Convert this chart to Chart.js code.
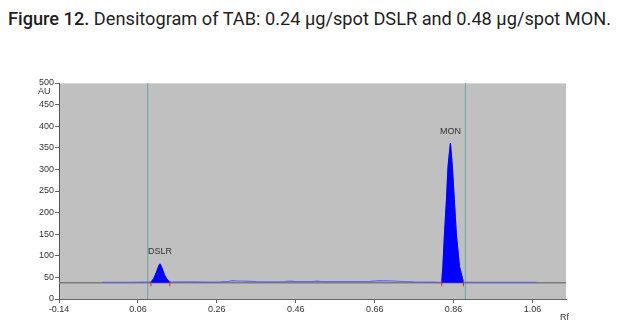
<!DOCTYPE html>
<html>
<head>
<meta charset="utf-8">
<script src="https://cdn.jsdelivr.net/npm/chart.js@4/dist/chart.umd.min.js"></script>
<style>
  html, body { margin: 0; padding: 0; background: #fff; }
  #wrap { position: relative; width: 619px; height: 335px; overflow: hidden; }
  #title {
    position: absolute; left: 8px; top: 8px; white-space: nowrap;
    font-family: Roboto, "Liberation Sans", sans-serif;
    font-size: 18.5px; color: #1e1e1e; transform-origin: 0 0; line-height: 22px;
  }
  #title b { font-weight: 500; }
  canvas { position: absolute; left: 0; top: 0; }
</style>
</head>
<body>
<div id="wrap">
  <div id="title"><b>Figure 12.</b> Densitogram of TAB: 0.24 μg/spot DSLR and 0.48 μg/spot MON.</div>
  <canvas id="c" width="619" height="335"></canvas>
</div>
<script>
// Rf axis ticks and AU axis ticks
const rfTicks = [-0.14, 0.06, 0.26, 0.46, 0.66, 0.86, 1.06];
const auTicks = [0, 50, 100, 150, 200, 250, 300, 350, 400, 450, 500];

// scanner baseline level (AU)
const baselineAU = 37.5;

// densitometric trace: Rf positions and absorbance (AU)
const traceRf = [-0.03, 0.00, 0.04, 0.08, 0.093, 0.100, 0.107, 0.113, 0.116, 0.120, 0.127, 0.134, 0.141,
  0.16, 0.20, 0.24, 0.27, 0.29, 0.30, 0.31, 0.33, 0.36, 0.40, 0.43, 0.445, 0.46, 0.48, 0.50, 0.515, 0.525, 0.54,
  0.58, 0.62, 0.65, 0.67, 0.70, 0.73, 0.76, 0.80, 0.82,
  0.830, 0.833, 0.837, 0.842, 0.846, 0.852, 0.857, 0.862, 0.867, 0.875, 0.885,
  0.90, 0.95, 1.00, 1.07];
const traceAU = [38.5, 38.5, 38.8, 39, 39, 47, 62, 77, 81, 74, 56, 45, 39,
  39.5, 39.5, 39, 39.5, 41, 42.5, 42, 41.5, 40, 39.5, 40, 41.5, 40, 40, 40, 41.5, 40.5, 40,
  40, 40, 41, 42.5, 42, 40.5, 39.5, 39, 38.5,
  38.5, 75, 151, 229, 306, 361, 306, 229, 151, 75, 39,
  38.5, 38.5, 38.5, 38.5];

// integrated peak windows (start Rf, end Rf) and their names
const peakNames = ["DSLR", "MON"];
const peakStart = [0.093, 0.830];
const peakEnd = [0.141, 0.885];

// track boundary lines (Rf)
const trackLines = [0.085, 0.89];

const tracePts = traceRf.map((x, i) => ({ x, y: traceAU[i] }));
const peakSets = peakNames.map((name, k) => ({
  label: name,
  data: tracePts.filter(p => p.x >= peakStart[k] - 1e-9 && p.x <= peakEnd[k] + 1e-9),
  showLine: true,
  borderColor: '#0000ff',
  backgroundColor: '#0000ff',
  borderWidth: 1,
  pointRadius: 0,
  tension: 0,
  fill: { value: baselineAU }
}));

const markerPts = [];
peakNames.forEach((n, k) => {
  markerPts.push({ x: peakStart[k], y: baselineAU - 2 });
  markerPts.push({ x: peakEnd[k], y: baselineAU - 2 });
});

const datasets = [
  {
    label: 'markers', data: markerPts, showLine: false,
    pointStyle: 'line', rotation: 90, pointRadius: 2.5,
    borderColor: '#e02020', borderWidth: 1
  },
  ...peakSets,
  {
    label: 'trace', data: tracePts, showLine: true,
    borderColor: 'rgba(85,85,245,0.8)', borderWidth: 1.2,
    pointRadius: 0, fill: false, tension: 0
  },
  {
    label: 'baseline',
    data: [{ x: -0.14, y: baselineAU }, { x: 1.145, y: baselineAU }],
    showLine: true, borderColor: '#7c7c7c', borderWidth: 1.5, pointRadius: 0
  },
  ...trackLines.map(x => ({
    label: 'track', data: [{ x, y: 0 }, { x, y: 500 }], showLine: true,
    borderColor: '#6fa2a2', borderWidth: 1, pointRadius: 0
  }))
];

const labelFont = '9px "Liberation Sans", Arial, sans-serif';

const decor = {
  id: 'decor',
  beforeDraw(chart) {
    const { ctx, chartArea: a } = chart;
    ctx.save();
    ctx.fillStyle = '#c0c0c0';
    ctx.fillRect(a.left, a.top, a.right - a.left, a.bottom - a.top);
    ctx.strokeStyle = '#d8d8d8';
    ctx.lineWidth = 1;
    ctx.beginPath();
    ctx.moveTo(a.left, a.top + 0.5);
    ctx.lineTo(a.right, a.top + 0.5);
    ctx.stroke();
    ctx.restore();
  },
  afterDraw(chart) {
    const { ctx, chartArea: a, scales } = chart;
    ctx.save();
    ctx.font = labelFont;
    ctx.fillStyle = '#333';
    ctx.textAlign = 'center';
    ctx.textBaseline = 'middle';
    peakNames.forEach((name, k) => {
      const pts = peakSets[k].data;
      const top = pts.reduce((m, p) => (p.y > m.y ? p : m), pts[0]);
      const px = scales.x.getPixelForValue(top.x);
      const py = scales.y.getPixelForValue(top.y);
      ctx.fillText(name, px, py - 12);
    });
    ctx.textAlign = 'left';
    ctx.fillText('AU', a.left - 21, a.top + 9);
    ctx.fillText('Rf', a.right - 6, a.bottom + 19);
    ctx.restore();
  }
};

new Chart(document.getElementById('c'), {
  type: 'scatter',
  data: { datasets },
  plugins: [decor],
  options: {
    responsive: false,
    animation: false,
    layout: { padding: { top: 83, right: 53, bottom: 0, left: 0 } },
    plugins: { legend: { display: false }, tooltip: { enabled: false } },
    scales: {
      x: {
        type: 'linear', min: -0.14, max: 1.145,
        afterBuildTicks: s => { s.ticks = rfTicks.map(v => ({ value: v })); },
        afterFit: s => { s.height = 36; },
        ticks: {
          font: { family: '"Liberation Sans", Arial, sans-serif', size: 9 },
          color: '#333', padding: 1, maxRotation: 0, autoSkip: false,
          callback: v => v.toFixed(2)
        },
        grid: { drawOnChartArea: false, drawTicks: true, tickLength: 4, color: '#666' },
        border: { display: true, color: '#666', width: 1 }
      },
      y: {
        type: 'linear', min: 0, max: 500,
        afterBuildTicks: s => { s.ticks = auTicks.map(v => ({ value: v })); },
        afterFit: s => { s.width = 59; },
        ticks: {
          font: { family: '"Liberation Sans", Arial, sans-serif', size: 9 },
          color: '#333', padding: 1, autoSkip: false
        },
        grid: { drawOnChartArea: false, drawTicks: true, tickLength: 4, color: '#666' },
        border: { display: true, color: '#555', width: 1 }
      }
    }
  }
});

// stretch the caption across the figure width
const t = document.getElementById('title');
const w = t.getBoundingClientRect().width;
t.style.transform = 'scaleX(' + (603 / w) + ')';
</script>
</body>
</html>
